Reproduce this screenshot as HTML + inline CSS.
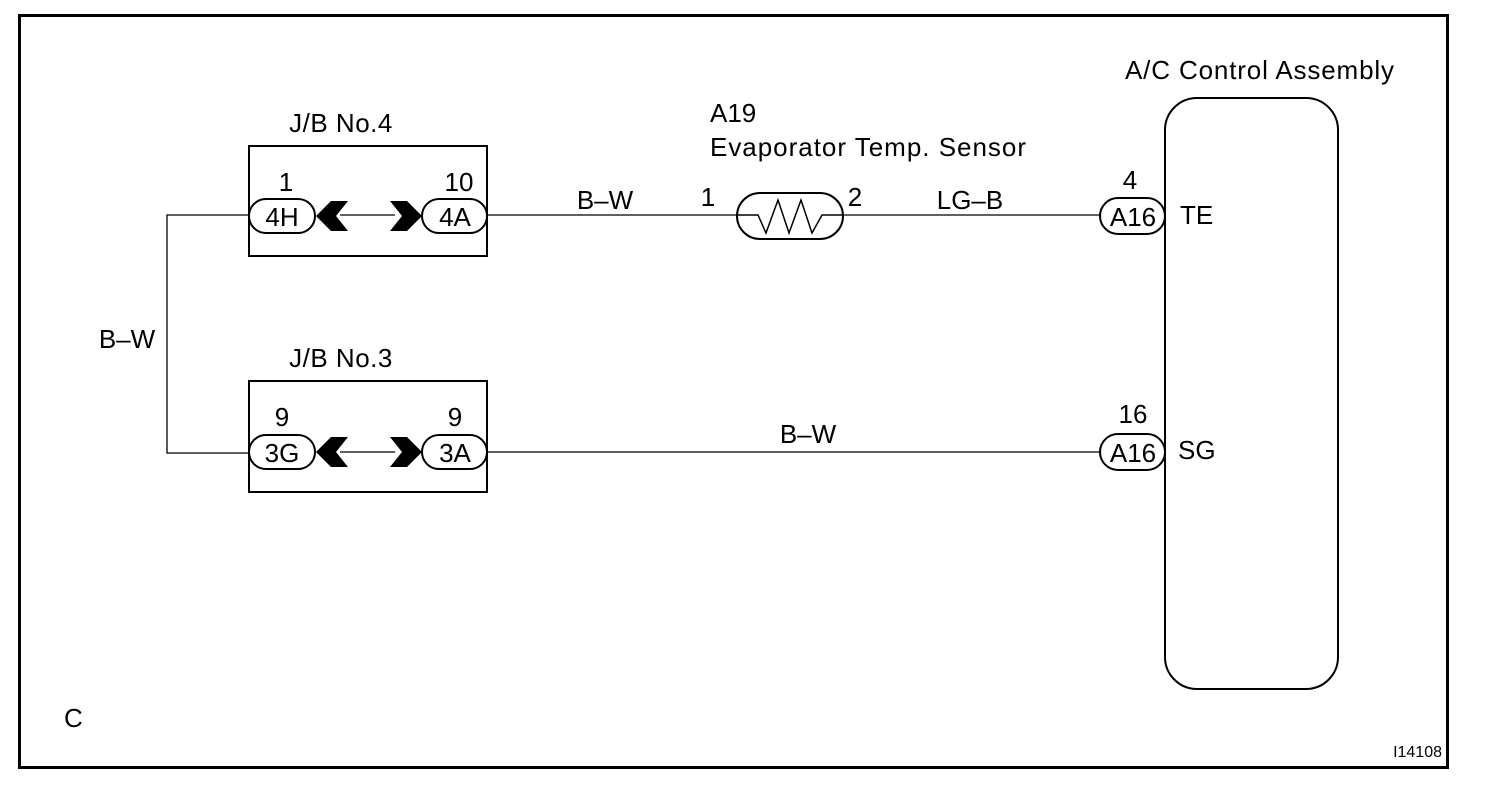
<!DOCTYPE html>
<html><head><meta charset="utf-8"><style>
html,body{margin:0;padding:0;background:#fff;}
svg{display:block;}
text{font-family:"Liberation Sans",Arial,sans-serif;fill:#000;}
</style></head><body>
<svg width="1504" height="802" viewBox="0 0 1504 802" xmlns="http://www.w3.org/2000/svg">
<rect x="19.5" y="15.5" width="1428" height="752" fill="none" stroke="#000" stroke-width="3"/>
<g stroke="#000" stroke-width="1.3" fill="none">
<polyline points="250,215 167,215 167,453 250,453"/>
<line x1="487" y1="215" x2="738" y2="215"/>
<line x1="842" y1="215" x2="1101" y2="215"/>
<line x1="487" y1="452" x2="1101" y2="452"/>
<line x1="340" y1="215" x2="395" y2="215"/>
<line x1="340" y1="452" x2="395" y2="452"/>
</g>
<rect x="249" y="146" width="238" height="110" fill="none" stroke="#000" stroke-width="2"/>
<rect x="249" y="381" width="238" height="111" fill="none" stroke="#000" stroke-width="2"/>
<g fill="#fff" stroke="#000" stroke-width="2">
<rect x="249" y="199" width="66" height="34" rx="17"/>
<rect x="422" y="199" width="65" height="34" rx="17"/>
<rect x="249" y="435" width="66" height="34" rx="17"/>
<rect x="422" y="435" width="65" height="34" rx="17"/>
<rect x="1100" y="198" width="65" height="36" rx="18"/>
<rect x="1100" y="434" width="65" height="36" rx="18"/>
<rect x="737" y="193" width="106" height="46" rx="23"/>
<rect x="1165" y="98" width="173" height="591" rx="32"/>
</g>
<polyline points="738,215 758,215 766,233 778,200 789,233 801,200 812,233 822,215 842,215" fill="none" stroke="#000" stroke-width="1.5"/>
<g fill="#000">
<polygon points="316,216 331,201 348,201 336,216 348,231 331,231"/>
<polygon points="422,216 407,201 390,201 402,216 390,231 407,231"/>
<polygon points="316,452 331,437 348,437 336,452 348,467 331,467"/>
<polygon points="422,452 407,437 390,437 402,452 390,467 407,467"/>
</g>
<g font-size="26">
<text x="282" y="226" text-anchor="middle">4H</text>
<text x="455" y="226" text-anchor="middle">4A</text>
<text x="282" y="462" text-anchor="middle">3G</text>
<text x="455" y="462" text-anchor="middle">3A</text>
<text x="1133" y="226" text-anchor="middle">A16</text>
<text x="1133" y="462" text-anchor="middle">A16</text>
<text x="286" y="191" text-anchor="middle">1</text>
<text x="459" y="191" text-anchor="middle">10</text>
<text x="282" y="426" text-anchor="middle">9</text>
<text x="455" y="426" text-anchor="middle">9</text>
<text x="1130" y="189" text-anchor="middle">4</text>
<text x="1133" y="423" text-anchor="middle">16</text>
<text x="1180" y="224">TE</text>
<text x="1178" y="459">SG</text>
<text x="341" y="132" text-anchor="middle" letter-spacing="0.5">J/B No.4</text>
<text x="341" y="367" text-anchor="middle" letter-spacing="0.5">J/B No.3</text>
<text x="710" y="122">A19</text>
<text x="710" y="156" textLength="316">Evaporator Temp. Sensor</text>
<text x="1125" y="79" textLength="269">A/C Control Assembly</text>
<text x="605" y="209" text-anchor="middle">B–W</text>
<text x="970" y="209" text-anchor="middle">LG–B</text>
<text x="808" y="443" text-anchor="middle">B–W</text>
<text x="127" y="348" text-anchor="middle">B–W</text>
<text x="708" y="206" text-anchor="middle">1</text>
<text x="855" y="206" text-anchor="middle">2</text>
<text x="64" y="727">C</text>
</g>
<text x="1442" y="757" font-size="16" text-anchor="end">I14108</text>
</svg>
</body></html>
